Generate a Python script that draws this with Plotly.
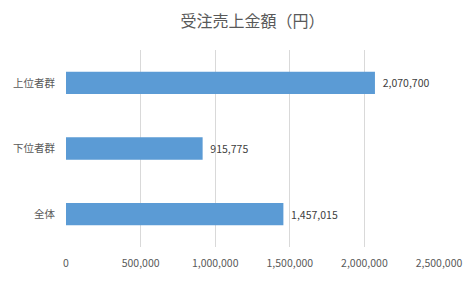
import plotly.graph_objects as go

categories = ["全体", "下位者群", "上位者群"]
values = [1457015, 915775, 2070700]
tick_vals = [0, 500000, 1000000, 1500000, 2000000, 2500000]
tick_text = ["0", "500,000", "1,000,000", "1,500,000", "2,000,000", "2,500,000"]
title_text = "受注売上金額（円）"

font_family = "Noto Sans CJK JP, Noto Sans, sans-serif"

fig = go.Figure(
    go.Bar(
        y=categories,
        x=values,
        orientation="h",
        marker=dict(color="#5B9BD5", line=dict(width=0)),
        text=["  " + f"{v:,}" for v in values],
        textposition="outside",
        textfont=dict(color="#404040", size=10.5, family=font_family),
        cliponaxis=False,
    )
)

fig.update_layout(
    width=475,
    height=282,
    margin=dict(l=66, r=36, t=50, b=28),
    paper_bgcolor="white",
    plot_bgcolor="white",
    bargap=0.66,
    showlegend=False,
    title=dict(
        text=title_text,
        x=0.5,
        xref="paper",
        y=0.925,
        yanchor="middle",
        font=dict(size=16, color="#595959", family=font_family),
    ),
    xaxis=dict(
        range=[0, 2500000],
        tickvals=tick_vals,
        ticktext=tick_text,
        showgrid=True,
        gridcolor="#D9D9D9",
        gridwidth=1,
        zeroline=False,
        showline=False,
        tickfont=dict(size=10.5, color="#595959", family=font_family),
        ticks="",
        ticklabelstandoff=8,
        fixedrange=True,
    ),
    yaxis=dict(
        showgrid=False,
        zeroline=False,
        showline=False,
        ticks="",
        ticklabelstandoff=10,
        tickfont=dict(size=10.5, color="#595959", family=font_family),
        fixedrange=True,
    ),
)

fig.write_html("out.html")
